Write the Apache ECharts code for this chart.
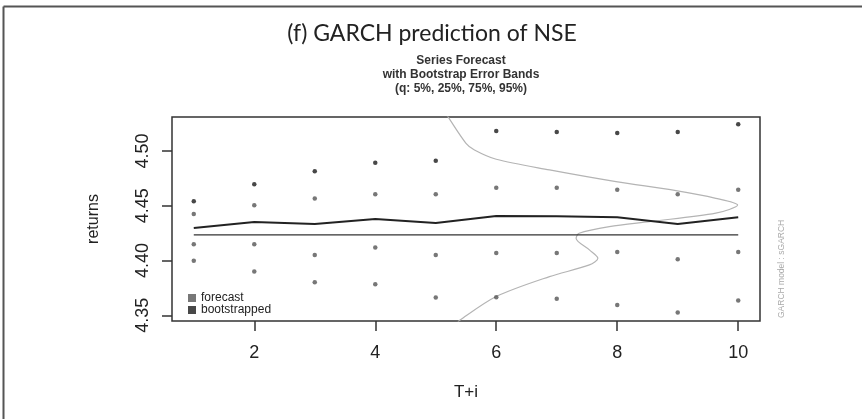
<!DOCTYPE html>
<html>
<head>
<meta charset="utf-8">
<script src="https://cdn.jsdelivr.net/npm/echarts@6/dist/echarts.min.js"></script>
<style>html,body{margin:0;padding:0;background:#fff}#c{width:862px;height:419px}</style>
</head>
<body>
<div id="c"></div>
<script>
var steps = [1, 2, 3, 4, 5, 6, 7, 8, 9, 10];
var q95 = [4.4540, 4.4696, 4.4815, 4.4893, 4.4911, 4.5182, 4.5173, 4.5164, 4.5173, 4.5244];
var q75 = [4.4425, 4.4504, 4.4565, 4.4605, 4.4605, 4.4665, 4.4665, 4.4647, 4.4605, 4.4647];
var q25 = [4.4149, 4.4149, 4.4051, 4.4118, 4.4051, 4.4069, 4.4069, 4.4078, 4.4012, 4.4078];
var q05 = [4.3999, 4.3899, 4.3802, 4.3784, 4.3662, 4.3665, 4.3652, 4.3595, 4.3525, 4.3634];
var forecastLine = [4.4297, 4.4352, 4.4334, 4.4380, 4.4343, 4.4407, 4.4404, 4.4395, 4.4334, 4.4395];
var seriesLevel = 4.4234;
// sideways density curve: [x, y]
var densX = [5.15, 5.20, 5.50, 5.64, 6.00, 6.88, 7.98, 8.97, 9.63, 9.99, 9.63, 8.53, 7.87, 7.37, 7.32, 7.54, 7.68, 7.54, 6.88, 6.00, 5.39, 5.36];
var densY = [4.535, 4.5313, 4.5070, 4.5009, 4.4924, 4.4827, 4.4720, 4.4638, 4.4568, 4.4507, 4.4432, 4.4355, 4.4309, 4.4249, 4.4203, 4.4097, 4.4021, 4.3960, 4.3853, 4.3671, 4.3452, 4.343];
var xTicks = [2, 4, 6, 8, 10];
var yTicks = [4.35, 4.40, 4.45, 4.50];

var chart = echarts.init(document.getElementById('c'));
function pairs(xs, ys) { return xs.map(function (x, i) { return [x, ys[i]]; }); }
var forecastDots = [].concat(pairs(steps, q75), pairs(steps, q25), pairs(steps, q05));
var bootDots = pairs(steps, q95);

chart.setOption({
  animation: false,
  backgroundColor: '#fff',
  title: [
    { text: '(f) GARCH prediction of NSE', left: 432, top: 22, textAlign: 'center', padding: 0,
      textStyle: { fontFamily: 'Lato', fontWeight: 'normal', fontSize: 23, color: '#222' } },
    { text: 'Series Forecast\nwith Bootstrap Error Bands\n(q: 5%, 25%, 75%, 95%)', left: 461, top: 54, textAlign: 'center', padding: 0,
      textStyle: { fontFamily: 'Liberation Sans', fontWeight: 'bold', fontSize: 12, lineHeight: 14, color: '#333' } }
  ],
  legend: {
    data: ['forecast', 'bootstrapped'], orient: 'vertical', left: 183, top: 287,
    icon: 'rect', itemWidth: 8, itemHeight: 8, itemGap: 0,
    textStyle: { fontFamily: 'Liberation Sans', fontSize: 12, lineHeight: 12, color: '#222' }
  },
  grid: { left: 172, top: 117, right: 102, bottom: 98, show: true, borderColor: '#333', borderWidth: 1.5, backgroundColor: 'transparent' },
  xAxis: {
    type: 'value', min: 0.64, max: 10.36,
    name: 'T+i', nameLocation: 'middle', nameGap: 63,
    nameTextStyle: { fontFamily: 'Liberation Sans', fontSize: 17, color: '#222' },
    axisLine: { show: false },
    axisTick: { show: true, length: 10, customValues: xTicks, lineStyle: { color: '#333', width: 1.5 } },
    axisLabel: { customValues: xTicks, margin: 23, fontFamily: 'Liberation Sans', fontSize: 18, color: '#222' },
    splitLine: { show: false }
  },
  yAxis: {
    type: 'value', min: 4.3448, max: 4.531,
    name: 'returns', nameLocation: 'middle', nameGap: 70, nameRotate: 90,
    nameTextStyle: { fontFamily: 'Liberation Sans', fontSize: 16, color: '#222' },
    axisLine: { show: false },
    axisTick: { show: true, length: 10, customValues: yTicks, lineStyle: { color: '#333', width: 1.5 } },
    axisLabel: { customValues: yTicks, rotate: 90, margin: 20, fontFamily: 'Liberation Sans', fontSize: 18, color: '#222',
      formatter: function (v) { return v.toFixed(2); } },
    splitLine: { show: false }
  },
  graphic: [
    { type: 'line', shape: { x1: 3.5, y1: 6.5, x2: 862, y2: 6.5 }, style: { stroke: '#555', lineWidth: 2 }, silent: true },
    { type: 'line', shape: { x1: 3.5, y1: 6.5, x2: 3.5, y2: 419 }, style: { stroke: '#555', lineWidth: 2 }, silent: true },
    { type: 'text', x: 782, y: 318, rotation: Math.PI / 2,
      style: { text: 'GARCH model : sGARCH', fontFamily: 'Liberation Sans', fontSize: 8.5, fill: '#aaa', textAlign: 'left', textVerticalAlign: 'middle' } }
  ],
  series: [
    { name: 'density', type: 'line', data: pairs(densX, densY), smooth: 0.3, showSymbol: false, symbol: 'none',
      lineStyle: { color: '#b4b4b4', width: 1.2 }, z: 1 },
    { name: 'level', type: 'line', data: [[1, seriesLevel], [10, seriesLevel]], showSymbol: false, symbol: 'none',
      lineStyle: { color: '#333', width: 1.3 }, z: 2 },
    { name: 'fline', type: 'line', data: pairs(steps, forecastLine), showSymbol: false, symbol: 'none',
      lineStyle: { color: '#222', width: 2 }, z: 3 },
    { name: 'forecast', type: 'scatter', data: forecastDots, symbolSize: 4.5, itemStyle: { color: '#555' }, z: 4 },
    { name: 'bootstrapped', type: 'scatter', data: bootDots, symbolSize: 4.5, itemStyle: { color: '#1a1a1a' }, z: 4 }
  ]
});
</script>
</body>
</html>
